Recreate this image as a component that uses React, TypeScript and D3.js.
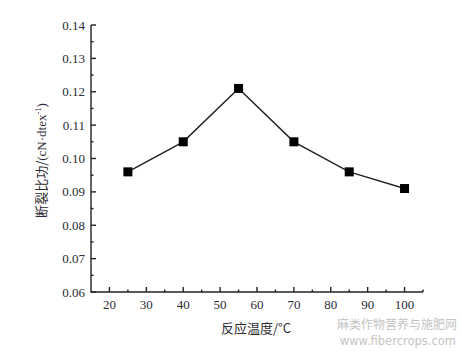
import React from "react";
import { scaleLinear, line, range } from "d3";

// reaction temperature (°C) and specific work of rupture (cN·dtex⁻¹)
const temperatures = [25, 40, 55, 70, 85, 100];
const workValues = [0.096, 0.105, 0.121, 0.105, 0.096, 0.091];
const xTicks = [20, 30, 40, 50, 60, 70, 80, 90, 100];
const yTicks = [0.06, 0.07, 0.08, 0.09, 0.1, 0.11, 0.12, 0.13, 0.14];

const width = 461;
const height = 351;
const margin = { left: 91, right: 38, top: 25, bottom: 59 };

export default function App() {
  const x = scaleLinear()
    .domain([15, 105])
    .range([margin.left, width - margin.right]);
  const y = scaleLinear()
    .domain([0.06, 0.14])
    .range([height - margin.bottom, margin.top]);

  const points = temperatures.map((t, i) => [t, workValues[i]] as [number, number]);
  const path = line<[number, number]>()
    .x((d) => x(d[0]))
    .y((d) => y(d[1]))(points);

  const x0 = x.range()[0];
  const y0 = y.range()[0];
  const textColor = "#2b2b33";
  const serif = "'Liberation Serif', 'Times New Roman', serif";
  const cjk = "'Noto Sans CJK SC', sans-serif";

  // minor ticks halfway between the majors
  const xMinor = range(25, 106, 10);
  const yMinor = range(0.065, 0.14, 0.01);

  return (
    <svg
      width={width}
      height={height}
      style={{ position: "absolute", left: 0, top: 0, background: "#fff" }}
    >
      {/* axes */}
      <g stroke="#222" strokeWidth={1.4} fill="none">
        <line x1={x0} x2={x0} y1={y.range()[1]} y2={y0 + 0.7} />
        <line x1={x0} x2={x.range()[1]} y1={y0} y2={y0} />
        {xTicks.map((t) => (
          <line key={"xt" + t} x1={x(t)} x2={x(t)} y1={y0} y2={y0 - 5} />
        ))}
        {xMinor.map((t) => (
          <line key={"xm" + t} x1={x(t)} x2={x(t)} y1={y0} y2={y0 - 2.5} />
        ))}
        {yTicks.map((t) => (
          <line key={"yt" + t} x1={x0} x2={x0 + 5} y1={y(t)} y2={y(t)} />
        ))}
        {yMinor.map((t) => (
          <line key={"ym" + t} x1={x0} x2={x0 + 2.5} y1={y(t)} y2={y(t)} />
        ))}
      </g>

      {/* tick labels */}
      <g fill={textColor} fontFamily={serif} fontSize={13}>
        {xTicks.map((t) => (
          <text key={"xl" + t} x={x(t)} y={y0 + 17} textAnchor="middle">
            {t}
          </text>
        ))}
        {yTicks.map((t) => (
          <text key={"yl" + t} x={x0 - 6} y={y(t)} dy="0.35em" textAnchor="end">
            {t.toFixed(2)}
          </text>
        ))}
      </g>

      {/* axis titles */}
      <text
        x={256}
        y={333}
        textAnchor="middle"
        fill={textColor}
        fontSize={13}
        fontFamily={cjk}
      >
        反应温度/°C
      </text>
      <text
        transform={`translate(46, ${(margin.top + y0) / 2 + 2}) rotate(-90)`}
        textAnchor="middle"
        fill={textColor}
        fontSize={13}
        fontFamily={cjk}
      >
        断裂比功/
        <tspan fontFamily={serif}>(cN·dtex</tspan>
        <tspan fontFamily={serif} fontSize={8.5} dy={-5}>
          -1
        </tspan>
        <tspan fontFamily={serif} dy={5}>
          )
        </tspan>
      </text>

      {/* data */}
      <path d={path ?? ""} fill="none" stroke="#222" strokeWidth={1.4} />
      {points.map((d, i) => (
        <rect
          key={"p" + i}
          x={x(d[0]) - 4.5}
          y={y(d[1]) - 4.5}
          width={9}
          height={9}
          fill="#000"
        />
      ))}

      {/* watermark */}
      <g fill="#c4c4c4" fontFamily={cjk} textAnchor="end">
        <text x={457} y={329} fontSize={12}>
          麻类作物营养与施肥网
        </text>
        <text x={456} y={345} fontSize={11.5} fontFamily="'DejaVu Sans', sans-serif">
          www.fibercrops.com
        </text>
      </g>
    </svg>
  );
}
